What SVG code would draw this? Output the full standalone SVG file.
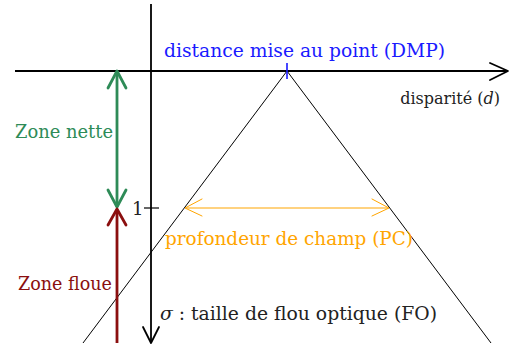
<svg xmlns="http://www.w3.org/2000/svg" width="517" height="349" viewBox="0 0 517 349">
<style>
.t{font-family:'DejaVu Serif','Liberation Serif',serif;font-size:18px}
.ax{stroke:#000;stroke-width:1.8;fill:none}
.head{fill:none;stroke-linecap:round;stroke-linejoin:round}
</style>
<rect width="517" height="349" fill="#fff"/>
<g id="connectors">
<line class="ax" x1="15" y1="71" x2="507" y2="71"/>
<polyline class="ax head" points="490,63 508,71 490,80"/>
<line class="ax" x1="151" y1="4" x2="151" y2="342"/>
<polyline class="ax head" points="143,327 151,343 159,327"/>
<line x1="287" y1="71" x2="83" y2="343" stroke="#000" stroke-width="1"/>
<line x1="287" y1="71" x2="491" y2="343" stroke="#000" stroke-width="1"/>
<line x1="287" y1="63" x2="287" y2="79" stroke="#1a1aff" stroke-width="1.6"/>
<line x1="144" y1="208" x2="159" y2="208" stroke="#000" stroke-width="1.2"/>
<line x1="117" y1="72" x2="117" y2="207" stroke="#2e8b57" stroke-width="2.8"/>
<polyline class="head" points="108,88 117,71 126,88" stroke="#2e8b57" stroke-width="2.8"/>
<polyline class="head" points="108,190 117,207 126,190" stroke="#2e8b57" stroke-width="2.8"/>
<line x1="117" y1="343" x2="117" y2="210" stroke="#8b0f0f" stroke-width="2.8"/>
<polyline class="head" points="108,225 117,209 126,225" stroke="#8b0f0f" stroke-width="2.8"/>
<line x1="186" y1="208" x2="388" y2="208" stroke="#ffa500" stroke-width="1"/>
<polyline class="head" points="202,199 185,208 202,216" stroke="#ffa500" stroke-width="1"/>
<polyline class="head" points="372,199 389,208 372,216" stroke="#ffa500" stroke-width="1"/>
</g>
<g id="labels">
<text class="t" x="164" y="57" fill="#1a1aff" textLength="281" lengthAdjust="spacingAndGlyphs">distance mise au point (DMP)</text>
<text class="t" x="500" y="104" fill="#222" text-anchor="end" style="font-size:16px">disparité (<tspan font-style="italic">d</tspan>)</text>
<text class="t" x="15" y="138" fill="#2e8b57" textLength="98" lengthAdjust="spacingAndGlyphs">Zone nette</text>
<text class="t" x="18" y="290" fill="#8b0f0f" textLength="94" lengthAdjust="spacingAndGlyphs">Zone floue</text>
<text class="t" x="132" y="215" fill="#222">1</text>
<text class="t" x="165" y="245" fill="#ffa500" textLength="248" lengthAdjust="spacingAndGlyphs">profondeur de champ (PC)</text>
<text class="t" x="160" y="320" fill="#222" textLength="277" lengthAdjust="spacingAndGlyphs"><tspan font-style="italic">σ</tspan> : taille de flou optique (FO)</text>
</g>
</svg>
